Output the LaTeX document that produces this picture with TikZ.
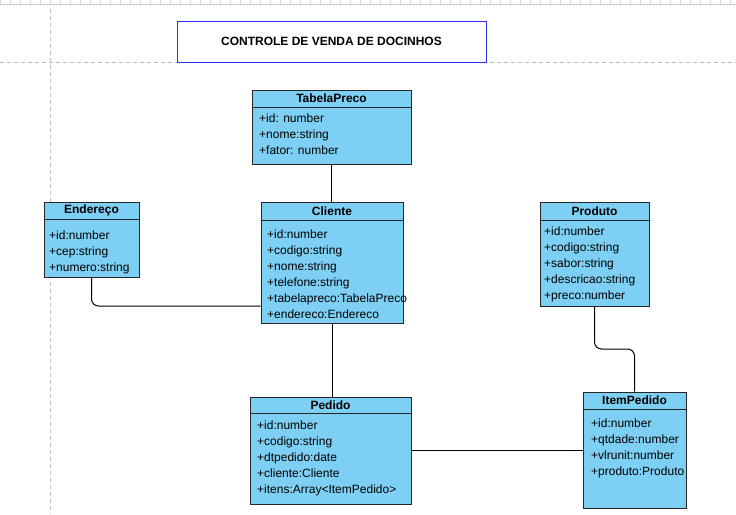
\documentclass[tikz,border=0pt]{standalone}
\usepackage{fontspec}
\setmainfont{Liberation Sans}
\usetikzlibrary{calc}

\definecolor{classfill}{HTML}{7DCFF3}
\definecolor{titleblue}{HTML}{2B2BF2}

\tikzset{
    classbox/.style  = {draw = black!85, fill = classfill, line width = 1pt, inner sep = 0pt},
    classhead/.style = {classbox, anchor = north, font = \fontsize{12}{16}\selectfont\bfseries},
    classattr/.style = {inner sep = 0pt, align = left, anchor = west,
                        font = \fontsize{12}{16}\selectfont,
                        execute at begin node = \strut, execute at end node = \strut},
    titlebox/.style  = {draw = titleblue, line width = 1pt, inner sep = 0pt,
                        font = \fontsize{12}{16}\selectfont\bfseries},
    link/.style      = {draw = black, line width = 1pt, rounded corners = 7pt},
    pagebreak/.style = {draw = black!25, line width = 0.8pt, dash pattern = on 4pt off 3pt}
}

\begin{document}
\begin{tikzpicture}[x = 1pt, y = -1pt]
        \useasboundingbox [fill = white] (0, 0) rectangle (736, 514);

        % ruler and page breaks
        \draw [black!20] (0, 4.5) -- (736, 4.5);
        \foreach \x in {0, 10, ..., 730}
            \draw [black!15] (\x, 0) -- (\x, 4);
        \draw [pagebreak] (50.5, 9) -- (50.5, 514);
        \draw [pagebreak] (0, 62) -- (736, 62);

        \node [titlebox, minimum width = 309pt, minimum height = 41pt] (title) at (331.5, 41.5) {CONTROLE DE VENDA DE DOCINHOS};

        % classes
        \node [classbox, minimum width = 159pt, minimum height = 74pt] (tabelapreco) at (331.5, 127.0) {};
        \node [classhead, minimum width = 159pt, minimum height = 17pt] (tabelapreco-head) at (tabelapreco.north) {TabelaPreco};
        \node [classattr] (tabelapreco-attr) at (259, 136.7) {+id: number\\+nome:string\\+fator: number};

        \node [classbox, minimum width = 142pt, minimum height = 121pt] (cliente) at (332.0, 262.5) {};
        \node [classhead, minimum width = 142pt, minimum height = 18pt] (cliente-head) at (cliente.north) {Cliente};
        \node [classattr] (cliente-attr) at (267, 276.2) {+id:number\\+codigo:string\\+nome:string\\+telefone:string\\+tabelapreco:TabelaPreco\\+endereco:Endereco};

        \node [classbox, minimum width = 95pt, minimum height = 75pt] (endereco) at (91.5, 239.5) {};
        \node [classhead, minimum width = 95pt, minimum height = 17pt] (endereco-head) at (endereco.north) {Endereço};
        \node [classattr] (endereco-attr) at (49, 253.2) {+id:number\\+cep:string\\+numero:string};

        \node [classbox, minimum width = 109pt, minimum height = 104pt] (produto) at (594.5, 254.0) {};
        \node [classhead, minimum width = 109pt, minimum height = 18pt] (produto-head) at (produto.north) {Produto};
        \node [classattr] (produto-attr) at (544, 265.2) {+id:number\\+codigo:string\\+sabor:string\\+descricao:string\\+preco:number};

        \node [classbox, minimum width = 161pt, minimum height = 107pt] (pedido) at (330.5, 450.5) {};
        \node [classhead, minimum width = 161pt, minimum height = 16pt] (pedido-head) at (pedido.north) {Pedido};
        \node [classattr] (pedido-attr) at (257, 459.2) {+id:number\\+codigo:string\\+dtpedido:date\\+cliente:Cliente\\+itens:Array<ItemPedido>};

        \node [classbox, minimum width = 103pt, minimum height = 116pt] (itempedido) at (634.5, 450.0) {};
        \node [classhead, minimum width = 103pt, minimum height = 17pt] (itempedido-head) at (itempedido.north) {ItemPedido};
        \node [classattr] (itempedido-attr) at (591, 449.7) {+id:number\\+qtdade:number\\+vlrunit:number\\+produto:Produto};

        % associations
        \draw [link] (tabelapreco.south) -- (tabelapreco.south |- cliente.north);
        \draw [link] (cliente.south) -- (cliente.south |- pedido.north);
        \draw [link] (endereco.south) |- ([yshift = -43.5pt] cliente.west);
        \draw [link] (pedido.east) -- (pedido.east -| itempedido.west);
        \draw [link] (produto.south) |- ($(produto.south)!0.5!(itempedido.north)$) -| (itempedido.north);
\end{tikzpicture}
\end{document}
